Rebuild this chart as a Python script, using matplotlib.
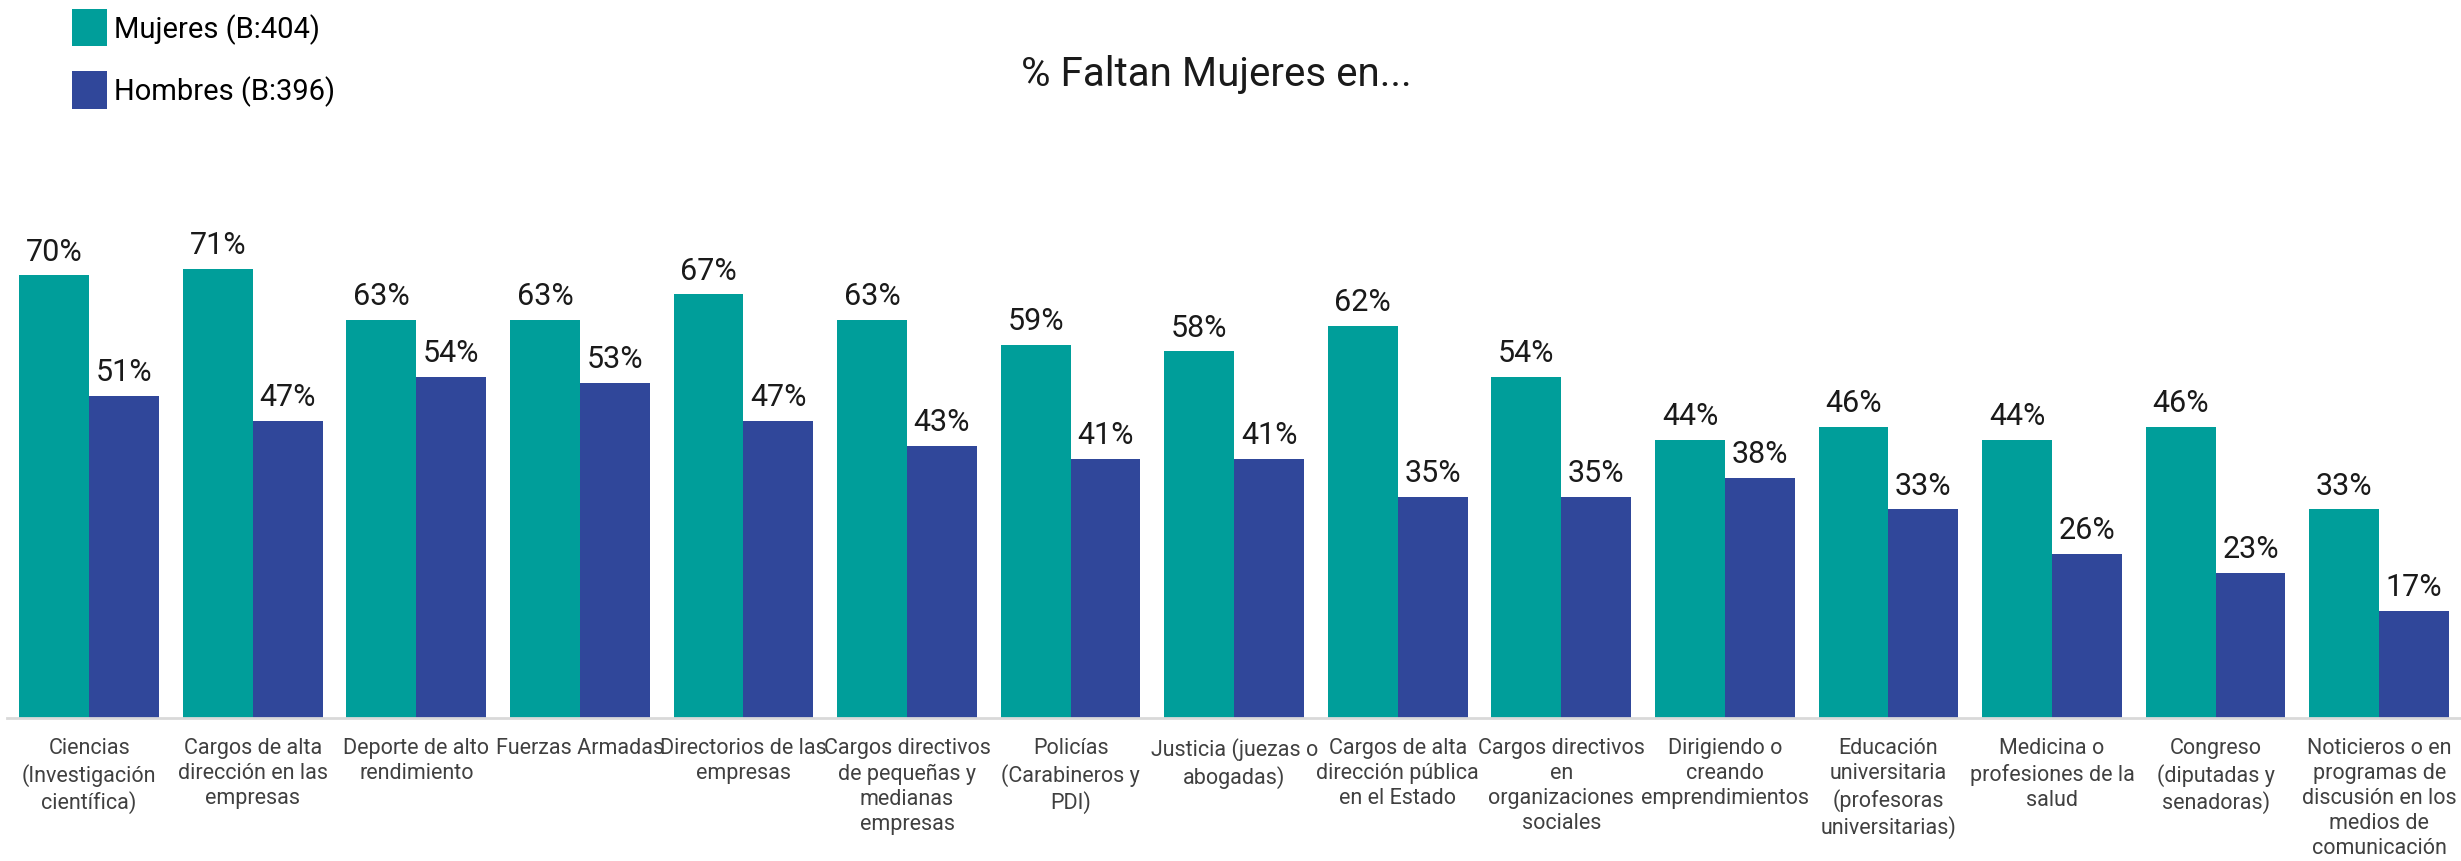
import matplotlib
matplotlib.use("Agg")
import matplotlib.pyplot as plt
import numpy as np

plt.rcParams['font.family'] = ['Roboto', 'DejaVu Sans']

categorias = [
    "Ciencias\n(Investigación\ncientífica)",
    "Cargos de alta\ndirección en las\nempresas",
    "Deporte de alto\nrendimiento",
    "Fuerzas Armadas",
    "Directorios de las\nempresas",
    "Cargos directivos\nde pequeñas y\nmedianas\nempresas",
    "Policías\n(Carabineros y\nPDI)",
    "Justicia (juezas o\nabogadas)",
    "Cargos de alta\ndirección pública\nen el Estado",
    "Cargos directivos\nen\norganizaciones\nsociales",
    "Dirigiendo o\ncreando\nemprendimientos",
    "Educación\nuniversitaria\n(profesoras\nuniversitarias)",
    "Medicina o\nprofesiones de la\nsalud",
    "Congreso\n(diputadas y\nsenadoras)",
    "Noticieros o en\nprogramas de\ndiscusión en los\nmedios de\ncomunicación",
]
mujeres = [70, 71, 63, 63, 67, 63, 59, 58, 62, 54, 44, 46, 44, 46, 33]
hombres = [51, 47, 54, 53, 47, 43, 41, 41, 35, 35, 38, 33, 26, 23, 17]
series = ["Mujeres (B:404)", "Hombres (B:396)"]

c_muj = "#009E9A"
c_hom = "#30479A"

fig = plt.figure(figsize=(24.61, 8.62), dpi=100)
ax = fig.add_axes([0.003, 1 - 719 / 862, 0.997, 607 / 862])

x = np.arange(len(categorias))
w = 0.427
b1 = ax.bar(x - w / 2, mujeres, w, color=c_muj, label=series[0])
b2 = ax.bar(x + w / 2, hombres, w, color=c_hom, label=series[1])

for bars in (b1, b2):
    ax.bar_label(bars, labels=[f"{v}%" for v in bars.datavalues],
                 padding=7, fontsize=22, color="#1a1a1a")

ax.set_xlim(-0.5, len(categorias) - 0.5)
ax.set_ylim(0, 96)
ax.set_yticks([])
ax.set_xticks(x)
ax.set_xticklabels(categorias, fontsize=15.5, color="#404040", linespacing=1.25)
ax.tick_params(axis='x', length=0, pad=14)
for s in ("top", "right", "left"):
    ax.spines[s].set_visible(False)
ax.spines["bottom"].set_color("#d9d9d9")
ax.spines["bottom"].set_linewidth(2)

fig.text(1216 / 2461, 1 - 74 / 862, "% Faltan Mujeres en...", ha="center",
         va="center", fontsize=29, color="#1a1a1a")

fig.legend(handles=[b1, b2], labels=series, loc="upper left",
           bbox_to_anchor=(72 / 2461, 1 - 10 / 862), frameon=False,
           fontsize=21, handlelength=1.2, handleheight=1.6,
           labelspacing=0.85, handletextpad=0.25, borderpad=0,
           borderaxespad=0)

fig.savefig("out.png", dpi=100)
